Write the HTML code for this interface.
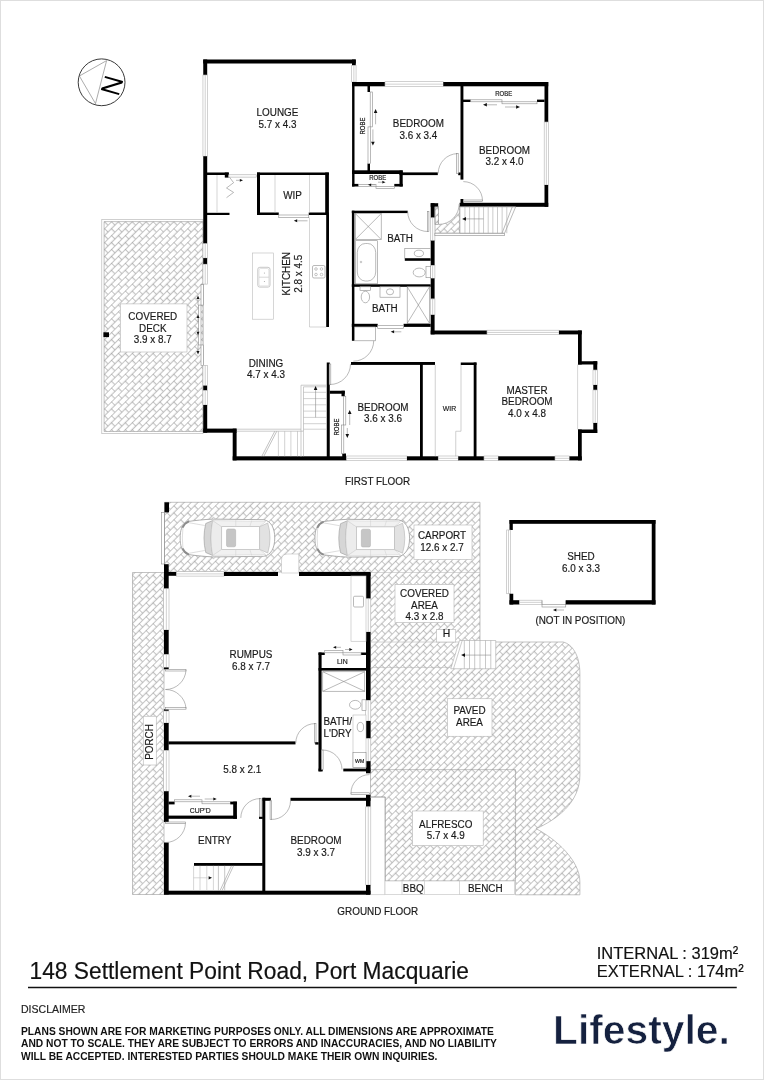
<!DOCTYPE html>
<html><head><meta charset="utf-8"><title>Floor plan</title>
<style>
html,body{margin:0;padding:0;background:#fff;}
svg{display:block;will-change:transform;font-family:"Liberation Sans",sans-serif;}
</style></head><body>
<svg width="764" height="1080" viewBox="0 0 764 1080">
<defs>
<pattern id="h" width="9.8" height="9.8" patternUnits="userSpaceOnUse" patternTransform="rotate(-45)">
<rect width="9.8" height="9.8" fill="#fff"/>
<path d="M0 0.3H9.8M0 5.2H9.8M0.3 0.3V5.2M5.2 5.2V9.8" stroke="#7c7c7c" stroke-width="0.56" fill="none"/>
</pattern>
</defs>
<rect width="764" height="1080" fill="#fff"/>
<rect x="101.80" y="219.30" width="101.20" height="214.40" fill="#fff" stroke="#b0b0b0" stroke-width="0.6"/>
<path d="M104.1 221.6H203V431.5H104.1Z" fill="url(#h)" stroke="#9a9a9a" stroke-width="0.6"/>
<path d="M434.9 206.8H459.9V233.2H434.9Z" fill="url(#h)" stroke="#9a9a9a" stroke-width="0.6"/>
<path d="M164.5 502.3H480V642H563C572 644 579.9 655 579.9 674V775C579.9 803 556.2 819.7 536.2 828.7C555.6 839 579.9 860 579.9 882V894.8H515.5V881H385.2V797H370.5V572H164.5Z" fill="url(#h)" stroke="#9a9a9a" stroke-width="0.6"/>
<path d="M132.5 572.5H164V894.5H132.5Z" fill="url(#h)" stroke="#9a9a9a" stroke-width="0.6"/>
<path d="M281.5 573V560Q281.5 554 287.5 554H298.8V573Z" fill="#fff" stroke="#b0b0b0" stroke-width="0.5" />
<rect x="203.25" y="59.50" width="152.50" height="4.00" fill="#000"/>
<rect x="203.25" y="59.50" width="3.95" height="15.50" fill="#000"/>
<rect x="202.95" y="75.00" width="4.55" height="81.25" fill="#fff" stroke="#b2b2b2" stroke-width="0.6"/>
<line x1="205.22" y1="75.00" x2="205.22" y2="156.25" stroke="#b2b2b2" stroke-width="0.6"/>
<rect x="203.25" y="156.25" width="3.95" height="87.45" fill="#000"/>
<rect x="202.95" y="243.70" width="4.55" height="14.40" fill="#fff" stroke="#b2b2b2" stroke-width="0.6"/>
<line x1="205.22" y1="243.70" x2="205.22" y2="258.10" stroke="#b2b2b2" stroke-width="0.6"/>
<rect x="203.25" y="258.10" width="3.95" height="6.10" fill="#000"/>
<rect x="202.95" y="264.20" width="4.55" height="19.90" fill="#fff" stroke="#b2b2b2" stroke-width="0.6"/>
<line x1="205.22" y1="264.20" x2="205.22" y2="284.10" stroke="#b2b2b2" stroke-width="0.6"/>
<rect x="201.00" y="284.60" width="2.40" height="20.50" fill="#fff" stroke="#8c8c8c" stroke-width="0.6"/>
<rect x="198.60" y="305.10" width="2.40" height="39.90" fill="#fff" stroke="#8c8c8c" stroke-width="0.6"/>
<rect x="201.00" y="345.00" width="2.40" height="20.30" fill="#fff" stroke="#8c8c8c" stroke-width="0.6"/>
<line x1="198.00" y1="305.00" x2="198.00" y2="298.90" stroke="#8a8a8a" stroke-width="0.6"/>
<polygon points="198.00,295.50 199.50,298.90 196.50,298.90" fill="#111"/>
<line x1="198.00" y1="322.00" x2="198.00" y2="318.10" stroke="#8a8a8a" stroke-width="0.6"/>
<polygon points="198.00,314.70 199.50,318.10 196.50,318.10" fill="#111"/>
<line x1="198.00" y1="328.00" x2="198.00" y2="331.80" stroke="#8a8a8a" stroke-width="0.6"/>
<polygon points="198.00,335.20 196.50,331.80 199.50,331.80" fill="#111"/>
<line x1="198.00" y1="344.80" x2="198.00" y2="351.00" stroke="#8a8a8a" stroke-width="0.6"/>
<polygon points="198.00,354.40 196.50,351.00 199.50,351.00" fill="#111"/>
<rect x="202.95" y="365.30" width="4.55" height="20.40" fill="#fff" stroke="#b2b2b2" stroke-width="0.6"/>
<line x1="205.22" y1="365.30" x2="205.22" y2="385.70" stroke="#b2b2b2" stroke-width="0.6"/>
<rect x="203.25" y="385.70" width="3.95" height="4.80" fill="#000"/>
<rect x="202.95" y="390.50" width="4.55" height="14.50" fill="#fff" stroke="#b2b2b2" stroke-width="0.6"/>
<line x1="205.22" y1="390.50" x2="205.22" y2="405.00" stroke="#b2b2b2" stroke-width="0.6"/>
<rect x="203.25" y="405.00" width="3.95" height="27.70" fill="#000"/>
<rect x="203.25" y="428.60" width="33.35" height="4.10" fill="#000"/>
<rect x="232.70" y="428.60" width="3.90" height="31.80" fill="#000"/>
<rect x="232.70" y="456.30" width="113.80" height="4.10" fill="#000"/>
<rect x="346.50" y="456.00" width="60.50" height="4.70" fill="#fff" stroke="#b2b2b2" stroke-width="0.6"/>
<line x1="346.50" y1="458.35" x2="407.00" y2="458.35" stroke="#b2b2b2" stroke-width="0.6"/>
<rect x="407.00" y="456.30" width="31.25" height="4.10" fill="#000"/>
<rect x="438.25" y="456.00" width="20.00" height="4.70" fill="#fff" stroke="#b2b2b2" stroke-width="0.6"/>
<line x1="438.25" y1="458.35" x2="458.25" y2="458.35" stroke="#b2b2b2" stroke-width="0.6"/>
<rect x="458.25" y="456.30" width="25.75" height="4.10" fill="#000"/>
<rect x="484.00" y="456.00" width="14.25" height="4.70" fill="#fff" stroke="#b2b2b2" stroke-width="0.6"/>
<line x1="484.00" y1="458.35" x2="498.25" y2="458.35" stroke="#b2b2b2" stroke-width="0.6"/>
<rect x="498.25" y="456.30" width="56.75" height="4.10" fill="#000"/>
<rect x="555.00" y="456.00" width="14.50" height="4.70" fill="#fff" stroke="#b2b2b2" stroke-width="0.6"/>
<line x1="555.00" y1="458.35" x2="569.50" y2="458.35" stroke="#b2b2b2" stroke-width="0.6"/>
<rect x="569.50" y="456.30" width="12.25" height="4.10" fill="#000"/>
<rect x="578.00" y="330.50" width="3.75" height="34.00" fill="#000"/>
<rect x="578.00" y="361.25" width="19.25" height="3.25" fill="#000"/>
<rect x="593.30" y="361.25" width="3.95" height="8.75" fill="#000"/>
<rect x="593.00" y="370.00" width="4.55" height="15.00" fill="#fff" stroke="#b2b2b2" stroke-width="0.6"/>
<line x1="595.27" y1="370.00" x2="595.27" y2="385.00" stroke="#b2b2b2" stroke-width="0.6"/>
<rect x="593.30" y="385.00" width="3.95" height="5.00" fill="#000"/>
<rect x="593.00" y="390.00" width="4.55" height="33.00" fill="#fff" stroke="#b2b2b2" stroke-width="0.6"/>
<line x1="595.27" y1="390.00" x2="595.27" y2="423.00" stroke="#b2b2b2" stroke-width="0.6"/>
<rect x="593.30" y="423.00" width="3.95" height="10.00" fill="#000"/>
<rect x="578.00" y="429.50" width="19.25" height="3.50" fill="#000"/>
<rect x="578.00" y="429.50" width="3.75" height="30.90" fill="#000"/>
<line x1="577.60" y1="364.50" x2="577.60" y2="429.50" stroke="#bbb" stroke-width="0.6"/>
<rect x="430.70" y="330.50" width="56.30" height="3.90" fill="#000"/>
<rect x="487.00" y="330.20" width="72.00" height="4.50" fill="#fff" stroke="#b2b2b2" stroke-width="0.6"/>
<line x1="487.00" y1="332.45" x2="559.00" y2="332.45" stroke="#b2b2b2" stroke-width="0.6"/>
<rect x="559.00" y="330.50" width="22.75" height="3.90" fill="#000"/>
<rect x="430.70" y="203.20" width="3.90" height="14.60" fill="#000"/>
<rect x="430.70" y="203.20" width="7.50" height="3.60" fill="#000"/>
<rect x="430.40" y="217.80" width="4.50" height="22.90" fill="#fff" stroke="#b2b2b2" stroke-width="0.6"/>
<line x1="432.65" y1="217.80" x2="432.65" y2="240.70" stroke="#b2b2b2" stroke-width="0.6"/>
<rect x="430.70" y="240.70" width="3.90" height="24.70" fill="#000"/>
<rect x="430.40" y="265.40" width="4.50" height="13.00" fill="#fff" stroke="#b2b2b2" stroke-width="0.6"/>
<line x1="432.65" y1="265.40" x2="432.65" y2="278.40" stroke="#b2b2b2" stroke-width="0.6"/>
<rect x="430.70" y="278.40" width="3.90" height="20.50" fill="#000"/>
<rect x="430.40" y="298.90" width="4.50" height="16.00" fill="#fff" stroke="#b2b2b2" stroke-width="0.6"/>
<line x1="432.65" y1="298.90" x2="432.65" y2="314.90" stroke="#b2b2b2" stroke-width="0.6"/>
<rect x="430.70" y="314.90" width="3.90" height="19.50" fill="#000"/>
<rect x="352.00" y="59.50" width="3.75" height="6.00" fill="#000"/>
<rect x="351.70" y="65.50" width="4.35" height="16.50" fill="#fff" stroke="#b2b2b2" stroke-width="0.6"/>
<line x1="353.88" y1="65.50" x2="353.88" y2="82.00" stroke="#b2b2b2" stroke-width="0.6"/>
<rect x="352.00" y="82.00" width="33.00" height="4.30" fill="#000"/>
<rect x="385.00" y="81.70" width="58.30" height="4.90" fill="#fff" stroke="#b2b2b2" stroke-width="0.6"/>
<line x1="385.00" y1="84.15" x2="443.30" y2="84.15" stroke="#b2b2b2" stroke-width="0.6"/>
<rect x="443.30" y="82.00" width="104.95" height="4.30" fill="#000"/>
<rect x="352.10" y="82.00" width="2.40" height="104.50" fill="#000"/>
<rect x="367.50" y="86.00" width="2.50" height="6.00" fill="#000"/>
<rect x="367.50" y="163.50" width="2.50" height="7.50" fill="#000"/>
<rect x="352.00" y="170.30" width="50.70" height="3.70" fill="#000"/>
<rect x="399.50" y="172.40" width="38.30" height="2.70" fill="#000"/>
<rect x="458.20" y="172.50" width="2.50" height="2.70" fill="#000"/>
<rect x="399.50" y="170.50" width="3.20" height="16.00" fill="#000"/>
<rect x="352.00" y="183.90" width="6.60" height="2.60" fill="#000"/>
<rect x="394.30" y="183.90" width="8.40" height="2.60" fill="#000"/>
<rect x="358.60" y="184.60" width="17.40" height="2.00" fill="#fff" stroke="#8c8c8c" stroke-width="0.6"/>
<rect x="376.00" y="186.60" width="18.30" height="2.00" fill="#fff" stroke="#8c8c8c" stroke-width="0.6"/>
<line x1="375.00" y1="184.80" x2="371.20" y2="184.80" stroke="#8a8a8a" stroke-width="0.6"/>
<polygon points="368.00,184.80 371.20,183.40 371.20,186.20" fill="#111"/>
<line x1="378.00" y1="182.20" x2="382.30" y2="182.20" stroke="#8a8a8a" stroke-width="0.6"/>
<polygon points="385.50,182.20 382.30,183.60 382.30,180.80" fill="#111"/>
<rect x="370.20" y="92.00" width="2.40" height="34.90" fill="#fff" stroke="#8c8c8c" stroke-width="0.6"/>
<rect x="368.00" y="126.90" width="2.40" height="36.60" fill="#fff" stroke="#8c8c8c" stroke-width="0.6"/>
<line x1="375.60" y1="124.30" x2="375.60" y2="112.90" stroke="#8a8a8a" stroke-width="0.6"/>
<polygon points="375.60,109.00 377.40,112.90 373.80,112.90" fill="#111"/>
<line x1="372.90" y1="129.40" x2="372.90" y2="141.70" stroke="#8a8a8a" stroke-width="0.6"/>
<polygon points="372.90,145.60 371.10,141.70 374.70,141.70" fill="#111"/>
<rect x="460.50" y="86.00" width="2.90" height="93.60" fill="#000"/>
<rect x="544.50" y="82.00" width="3.75" height="40.00" fill="#000"/>
<rect x="544.20" y="122.00" width="4.35" height="63.00" fill="#fff" stroke="#b2b2b2" stroke-width="0.6"/>
<line x1="546.38" y1="122.00" x2="546.38" y2="185.00" stroke="#b2b2b2" stroke-width="0.6"/>
<rect x="544.50" y="185.00" width="3.75" height="21.80" fill="#000"/>
<rect x="459.60" y="202.80" width="88.65" height="4.00" fill="#000"/>
<rect x="460.50" y="199.00" width="2.90" height="4.00" fill="#000"/>
<rect x="462.00" y="99.60" width="8.75" height="2.40" fill="#000"/>
<rect x="537.00" y="99.60" width="7.50" height="2.40" fill="#000"/>
<rect x="470.75" y="99.80" width="31.25" height="2.00" fill="#fff" stroke="#8c8c8c" stroke-width="0.6"/>
<rect x="502.00" y="101.80" width="35.00" height="2.00" fill="#fff" stroke="#8c8c8c" stroke-width="0.6"/>
<line x1="497.00" y1="104.80" x2="486.90" y2="104.80" stroke="#8a8a8a" stroke-width="0.6"/>
<polygon points="483.00,104.80 486.90,103.00 486.90,106.60" fill="#111"/>
<line x1="505.00" y1="107.00" x2="516.10" y2="107.00" stroke="#8a8a8a" stroke-width="0.6"/>
<polygon points="520.00,107.00 516.10,108.80 516.10,105.20" fill="#111"/>
<rect x="456.60" y="153.60" width="1.60" height="19.80" fill="#fff" stroke="#8c8c8c" stroke-width="0.6"/>
<path d="M457.40 153.60A19.80 19.80 0 0 0 438.20 173.40" fill="none" stroke="#8c8c8c" stroke-width="0.6" />
<rect x="463.30" y="200.00" width="19.20" height="1.60" fill="#fff" stroke="#8c8c8c" stroke-width="0.6"/>
<path d="M482.50 200.80A19.20 19.20 0 0 0 463.30 181.60" fill="none" stroke="#8c8c8c" stroke-width="0.6" />
<path d="M438.8 204V224.4A20.4 20.4 0 0 0 459.2 204Z" fill="#fff" stroke="none" stroke-width="0.6" />
<path d="M438.8 224.4A20.4 20.4 0 0 0 459.2 204" fill="none" stroke="#8c8c8c" stroke-width="0.6" />
<rect x="435.00" y="206.80" width="3.40" height="17.60" fill="none" stroke="#8c8c8c" stroke-width="0.6"/>
<rect x="434.90" y="233.20" width="69.70" height="2.50" fill="#fff" stroke="#8c8c8c" stroke-width="0.6"/>
<path d="M459.9 206.8H515.7L504.6 233.2H459.9Z" fill="#fff" stroke="#8c8c8c" stroke-width="0.6" />
<line x1="512.30" y1="206.80" x2="502.00" y2="233.20" stroke="#8c8c8c" stroke-width="0.6"/>
<line x1="464.95" y1="206.80" x2="464.95" y2="233.20" stroke="#a8a8a8" stroke-width="0.6"/>
<line x1="469.60" y1="206.80" x2="469.60" y2="233.20" stroke="#a8a8a8" stroke-width="0.6"/>
<line x1="474.25" y1="206.80" x2="474.25" y2="233.20" stroke="#a8a8a8" stroke-width="0.6"/>
<line x1="478.90" y1="206.80" x2="478.90" y2="233.20" stroke="#a8a8a8" stroke-width="0.6"/>
<line x1="483.55" y1="206.80" x2="483.55" y2="233.20" stroke="#a8a8a8" stroke-width="0.6"/>
<line x1="488.20" y1="206.80" x2="488.20" y2="233.20" stroke="#a8a8a8" stroke-width="0.6"/>
<line x1="492.85" y1="206.80" x2="492.85" y2="233.20" stroke="#a8a8a8" stroke-width="0.6"/>
<line x1="497.50" y1="206.80" x2="497.50" y2="233.20" stroke="#a8a8a8" stroke-width="0.6"/>
<line x1="502.15" y1="206.80" x2="502.15" y2="233.20" stroke="#a8a8a8" stroke-width="0.6"/>
<line x1="506.80" y1="206.80" x2="506.80" y2="233.20" stroke="#a8a8a8" stroke-width="0.6"/>
<line x1="483.50" y1="218.90" x2="466.00" y2="218.90" stroke="#8a8a8a" stroke-width="0.6"/>
<polygon points="462.10,218.90 466.00,217.10 466.00,220.70" fill="#111"/>
<rect x="351.90" y="210.70" width="2.50" height="130.10" fill="#000"/>
<rect x="351.80" y="210.70" width="55.90" height="2.40" fill="#000"/>
<rect x="355.30" y="213.60" width="25.90" height="25.90" fill="#fff" stroke="#8c8c8c" stroke-width="0.6"/>
<line x1="355.30" y1="213.60" x2="381.20" y2="239.50" stroke="#8c8c8c" stroke-width="0.6"/>
<line x1="355.30" y1="239.50" x2="381.20" y2="213.60" stroke="#8c8c8c" stroke-width="0.6"/>
<rect x="355.30" y="240.70" width="22.40" height="43.10" fill="#fff" stroke="#8c8c8c" stroke-width="0.6"/>
<rect x="357.3" y="243.5" width="18.4" height="37.5" rx="8" ry="9" fill="#fff" stroke="#8c8c8c" stroke-width="0.6"/>
<circle cx="361" cy="262" r="0.8" fill="none" stroke="#8c8c8c" stroke-width="0.5"/>
<rect x="404.80" y="248.40" width="25.90" height="9.90" fill="#fff" stroke="#8c8c8c" stroke-width="0.6"/>
<ellipse cx="418.9" cy="253.4" rx="4.6" ry="3.2" fill="#fff" stroke="#8c8c8c" stroke-width="0.6"/>
<rect x="404.80" y="258.30" width="25.90" height="2.50" fill="#000"/>
<ellipse cx="419.2" cy="272.5" rx="6" ry="4.4" fill="#fff" stroke="#8c8c8c" stroke-width="0.6"/>
<rect x="426.00" y="266.60" width="4.70" height="11.10" fill="#fff" stroke="#8c8c8c" stroke-width="0.6"/>
<rect x="351.80" y="284.30" width="78.90" height="2.50" fill="#000"/>
<rect x="427.30" y="211.50" width="1.60" height="20.00" fill="#fff" stroke="#8c8c8c" stroke-width="0.6"/>
<path d="M428.10 231.50A20.00 20.00 0 0 1 407.70 211.50" fill="none" stroke="#8c8c8c" stroke-width="0.6" />
<rect x="360.00" y="286.80" width="10.60" height="3.50" fill="#fff" stroke="#8c8c8c" stroke-width="0.6"/>
<ellipse cx="365.4" cy="297" rx="4.2" ry="5.8" fill="#fff" stroke="#8c8c8c" stroke-width="0.6"/>
<rect x="380.00" y="286.80" width="20.00" height="10.40" fill="#fff" stroke="#8c8c8c" stroke-width="0.6"/>
<ellipse cx="390" cy="291.8" rx="3.6" ry="3" fill="#fff" stroke="#8c8c8c" stroke-width="0.6"/>
<rect x="407.20" y="286.80" width="22.30" height="36.50" fill="#fff" stroke="#8c8c8c" stroke-width="0.6"/>
<line x1="407.20" y1="286.80" x2="429.50" y2="323.30" stroke="#8c8c8c" stroke-width="0.6"/>
<line x1="407.20" y1="323.30" x2="429.50" y2="286.80" stroke="#8c8c8c" stroke-width="0.6"/>
<rect x="351.80" y="323.80" width="25.90" height="3.10" fill="#000"/>
<rect x="403.60" y="323.80" width="27.10" height="3.10" fill="#000"/>
<rect x="377.70" y="325.40" width="25.90" height="3.00" fill="#fff" stroke="#8c8c8c" stroke-width="0.6"/>
<line x1="401.30" y1="331.80" x2="394.10" y2="331.80" stroke="#8a8a8a" stroke-width="0.6"/>
<polygon points="390.70,331.80 394.10,330.30 394.10,333.30" fill="#111"/>
<rect x="354.70" y="326.90" width="20.60" height="13.90" fill="none" stroke="#8c8c8c" stroke-width="0.6"/>
<path d="M353.30 361.20A20.40 20.40 0 0 0 373.70 340.80" fill="none" stroke="#8c8c8c" stroke-width="0.6" />
<rect x="351.00" y="362.00" width="84.00" height="2.90" fill="#000"/>
<rect x="326.75" y="362.50" width="3.00" height="95.00" fill="#000"/>
<rect x="329.75" y="390.75" width="15.00" height="3.00" fill="#000"/>
<rect x="341.50" y="390.75" width="3.25" height="5.50" fill="#000"/>
<rect x="342.25" y="453.50" width="3.75" height="4.00" fill="#000"/>
<rect x="343.60" y="396.25" width="2.20" height="28.75" fill="#fff" stroke="#8c8c8c" stroke-width="0.6"/>
<rect x="341.60" y="425.00" width="2.20" height="28.50" fill="#fff" stroke="#8c8c8c" stroke-width="0.6"/>
<line x1="349.70" y1="425.00" x2="349.70" y2="413.90" stroke="#8a8a8a" stroke-width="0.6"/>
<polygon points="349.70,410.00 351.50,413.90 347.90,413.90" fill="#111"/>
<line x1="347.30" y1="428.00" x2="347.30" y2="434.10" stroke="#8a8a8a" stroke-width="0.6"/>
<polygon points="347.30,438.00 345.50,434.10 349.10,434.10" fill="#111"/>
<rect x="329.20" y="364.00" width="1.60" height="20.50" fill="#fff" stroke="#8c8c8c" stroke-width="0.6"/>
<path d="M330.00 384.50A20.50 20.50 0 0 0 350.50 364.00" fill="none" stroke="#8c8c8c" stroke-width="0.6" />
<rect x="420.00" y="362.50" width="2.80" height="95.00" fill="#000"/>
<line x1="435.25" y1="364.90" x2="435.25" y2="456.30" stroke="#b0b0b0" stroke-width="0.6"/>
<rect x="460.75" y="362.50" width="15.75" height="2.50" fill="#000"/>
<rect x="473.70" y="362.50" width="2.80" height="95.00" fill="#000"/>
<path d="M461 365V431.25H455.75V456.3" fill="none" stroke="#b0b0b0" stroke-width="0.6" />
<rect x="207.00" y="172.50" width="21.75" height="2.50" fill="#000"/>
<rect x="224.80" y="172.50" width="3.90" height="5.10" fill="#000"/>
<rect x="207.00" y="212.80" width="22.50" height="2.20" fill="#000"/>
<line x1="217.00" y1="175.00" x2="217.00" y2="212.80" stroke="#bbb" stroke-width="0.6"/>
<rect x="228.75" y="174.80" width="27.50" height="2.30" fill="#fff" stroke="#a8a8a8" stroke-width="0.6"/>
<line x1="236.00" y1="180.30" x2="239.80" y2="180.30" stroke="#8a8a8a" stroke-width="0.6"/>
<polygon points="243.00,180.30 239.80,181.70 239.80,178.90" fill="#111"/>
<path d="M229.2 176.8L233.6 182.7L226.5 188L233.6 192.4L226.5 197.7" fill="none" stroke="#8a8a8a" stroke-width="0.6" />
<rect x="257.00" y="172.50" width="71.75" height="2.50" fill="#000"/>
<rect x="257.00" y="172.50" width="3.00" height="42.50" fill="#000"/>
<rect x="257.00" y="212.50" width="21.75" height="2.50" fill="#000"/>
<rect x="308.75" y="212.50" width="20.00" height="2.50" fill="#000"/>
<rect x="325.20" y="172.50" width="3.70" height="42.50" fill="#000"/>
<rect x="326.20" y="215.00" width="2.80" height="112.00" fill="#000"/>
<line x1="275.00" y1="175.00" x2="275.00" y2="212.50" stroke="#bbb" stroke-width="0.6"/>
<line x1="309.50" y1="175.00" x2="309.50" y2="212.50" stroke="#bbb" stroke-width="0.6"/>
<rect x="278.75" y="215.00" width="30.00" height="2.70" fill="#fff" stroke="#8c8c8c" stroke-width="0.6"/>
<line x1="307.50" y1="220.80" x2="297.20" y2="220.80" stroke="#8a8a8a" stroke-width="0.6"/>
<polygon points="293.80,220.80 297.20,219.30 297.20,222.30" fill="#111"/>
<path d="M309.5 217.7V327H326.2" fill="none" stroke="#bbb" stroke-width="0.6" />
<rect x="312.5" y="265.5" width="12.5" height="12.5" rx="1.5" fill="#fff" stroke="#8c8c8c" stroke-width="0.6"/>
<circle cx="316" cy="269" r="1.3" fill="none" stroke="#8c8c8c" stroke-width="0.5"/>
<circle cx="321.5" cy="269" r="1.3" fill="none" stroke="#8c8c8c" stroke-width="0.5"/>
<circle cx="316" cy="274.5" r="1.3" fill="none" stroke="#8c8c8c" stroke-width="0.5"/>
<circle cx="321.5" cy="274.5" r="1.3" fill="none" stroke="#8c8c8c" stroke-width="0.5"/>
<rect x="252.50" y="253.00" width="20.80" height="66.20" fill="#fff" stroke="#bbb" stroke-width="0.6"/>
<rect x="257.8" y="267.3" width="12.2" height="19.8" rx="2" fill="#fff" stroke="#b0b0b0" stroke-width="0.7"/>
<rect x="259" y="268.5" width="9.8" height="17.4" rx="1.5" fill="none" stroke="#c8c8c8" stroke-width="0.5"/>
<line x1="259.00" y1="277.20" x2="268.80" y2="277.20" stroke="#bdbdbd" stroke-width="0.6"/>
<circle cx="264.4" cy="273" r="0.5" fill="#999"/><circle cx="264.4" cy="281.6" r="0.5" fill="#999"/>
<path d="M301 457V385.2H326.5M303.5 431.2V386.8H326.5" fill="none" stroke="#aaa" stroke-width="0.6" />
<path d="M236.6 429.2H301M236.6 431.2H303.5" fill="none" stroke="#aaa" stroke-width="0.6" />
<line x1="303.50" y1="392.30" x2="326.50" y2="392.30" stroke="#b4b4b4" stroke-width="0.6"/>
<line x1="303.50" y1="398.60" x2="326.50" y2="398.60" stroke="#b4b4b4" stroke-width="0.6"/>
<line x1="303.50" y1="404.80" x2="326.50" y2="404.80" stroke="#b4b4b4" stroke-width="0.6"/>
<line x1="303.50" y1="411.10" x2="326.50" y2="411.10" stroke="#b4b4b4" stroke-width="0.6"/>
<line x1="303.50" y1="417.40" x2="326.50" y2="417.40" stroke="#b4b4b4" stroke-width="0.6"/>
<line x1="303.50" y1="423.70" x2="326.50" y2="423.70" stroke="#b4b4b4" stroke-width="0.6"/>
<line x1="303.50" y1="429.20" x2="326.50" y2="429.20" stroke="#b4b4b4" stroke-width="0.6"/>
<line x1="278.40" y1="431.20" x2="278.40" y2="456.30" stroke="#b4b4b4" stroke-width="0.6"/>
<line x1="284.70" y1="431.20" x2="284.70" y2="456.30" stroke="#b4b4b4" stroke-width="0.6"/>
<line x1="290.90" y1="431.20" x2="290.90" y2="456.30" stroke="#b4b4b4" stroke-width="0.6"/>
<line x1="297.50" y1="431.20" x2="297.50" y2="456.30" stroke="#b4b4b4" stroke-width="0.6"/>
<line x1="303.50" y1="431.20" x2="303.50" y2="456.30" stroke="#b4b4b4" stroke-width="0.6"/>
<line x1="276.80" y1="431.20" x2="263.80" y2="456.30" stroke="#999" stroke-width="0.6"/>
<line x1="274.80" y1="431.20" x2="261.80" y2="456.30" stroke="#999" stroke-width="0.6"/>
<line x1="315.60" y1="417.40" x2="315.60" y2="389.90" stroke="#8a8a8a" stroke-width="0.6"/>
<polygon points="315.60,386.00 317.40,389.90 313.80,389.90" fill="#111"/>
<rect x="164.50" y="502.30" width="4.50" height="10.10" fill="#000"/>
<rect x="161.50" y="512.40" width="3.00" height="51.60" fill="none" stroke="#8c8c8c" stroke-width="0.6"/>
<rect x="164.00" y="564.20" width="4.70" height="24.55" fill="#000"/>
<rect x="164.00" y="572.00" width="12.50" height="3.80" fill="#000"/>
<rect x="176.50" y="571.70" width="47.50" height="4.40" fill="#fff" stroke="#b2b2b2" stroke-width="0.6"/>
<line x1="176.50" y1="573.90" x2="224.00" y2="573.90" stroke="#b2b2b2" stroke-width="0.6"/>
<rect x="224.00" y="572.00" width="54.00" height="4.00" fill="#000"/>
<rect x="299.00" y="572.00" width="71.50" height="4.00" fill="#000"/>
<rect x="163.70" y="588.75" width="5.30" height="41.25" fill="#fff" stroke="#b2b2b2" stroke-width="0.6"/>
<line x1="166.35" y1="588.75" x2="166.35" y2="630.00" stroke="#b2b2b2" stroke-width="0.6"/>
<rect x="164.00" y="630.00" width="4.70" height="24.50" fill="#000"/>
<rect x="163.70" y="654.50" width="5.30" height="13.00" fill="#fff" stroke="#b2b2b2" stroke-width="0.6"/>
<line x1="166.35" y1="654.50" x2="166.35" y2="667.50" stroke="#b2b2b2" stroke-width="0.6"/>
<rect x="164.00" y="667.50" width="4.70" height="1.80" fill="#000"/>
<rect x="164.00" y="709.30" width="4.70" height="1.70" fill="#000"/>
<rect x="163.70" y="711.00" width="5.30" height="12.00" fill="#fff" stroke="#b2b2b2" stroke-width="0.6"/>
<line x1="166.35" y1="711.00" x2="166.35" y2="723.00" stroke="#b2b2b2" stroke-width="0.6"/>
<rect x="164.00" y="723.00" width="4.70" height="27.50" fill="#000"/>
<rect x="163.70" y="750.50" width="5.30" height="40.75" fill="#fff" stroke="#b2b2b2" stroke-width="0.6"/>
<line x1="166.35" y1="750.50" x2="166.35" y2="791.25" stroke="#b2b2b2" stroke-width="0.6"/>
<rect x="164.00" y="791.25" width="4.70" height="30.75" fill="#000"/>
<rect x="164.00" y="842.50" width="4.70" height="52.00" fill="#000"/>
<rect x="164.00" y="890.70" width="206.50" height="4.00" fill="#000"/>
<rect x="165.50" y="669.40" width="20.50" height="1.60" fill="#fff" stroke="#8c8c8c" stroke-width="0.6"/>
<path d="M186.00 670.20A20.50 20.50 0 0 1 165.50 689.50" fill="none" stroke="#8c8c8c" stroke-width="0.6" />
<rect x="165.50" y="707.60" width="20.50" height="1.60" fill="#fff" stroke="#8c8c8c" stroke-width="0.6"/>
<path d="M186.00 708.40A20.50 20.50 0 0 0 165.50 689.50" fill="none" stroke="#8c8c8c" stroke-width="0.6" />
<rect x="165.50" y="822.00" width="20.00" height="1.60" fill="#fff" stroke="#8c8c8c" stroke-width="0.6"/>
<path d="M185.50 822.80A20.00 20.00 0 0 1 165.50 842.50" fill="none" stroke="#8c8c8c" stroke-width="0.6" />
<rect x="366.00" y="572.00" width="4.50" height="26.75" fill="#000"/>
<rect x="365.70" y="598.75" width="5.10" height="33.25" fill="#fff" stroke="#b2b2b2" stroke-width="0.6"/>
<line x1="368.25" y1="598.75" x2="368.25" y2="632.00" stroke="#b2b2b2" stroke-width="0.6"/>
<rect x="366.00" y="632.00" width="4.50" height="68.30" fill="#000"/>
<rect x="365.70" y="700.30" width="5.10" height="20.70" fill="#fff" stroke="#b2b2b2" stroke-width="0.6"/>
<line x1="368.25" y1="700.30" x2="368.25" y2="721.00" stroke="#b2b2b2" stroke-width="0.6"/>
<rect x="366.00" y="721.00" width="4.50" height="17.50" fill="#000"/>
<rect x="365.70" y="738.50" width="5.10" height="22.70" fill="#fff" stroke="#b2b2b2" stroke-width="0.6"/>
<line x1="368.25" y1="738.50" x2="368.25" y2="761.20" stroke="#b2b2b2" stroke-width="0.6"/>
<rect x="366.00" y="761.20" width="4.50" height="12.10" fill="#000"/>
<rect x="366.00" y="794.70" width="4.50" height="12.10" fill="#000"/>
<rect x="365.70" y="806.80" width="5.10" height="78.20" fill="#fff" stroke="#b2b2b2" stroke-width="0.6"/>
<line x1="368.25" y1="806.80" x2="368.25" y2="885.00" stroke="#b2b2b2" stroke-width="0.6"/>
<rect x="366.00" y="885.00" width="4.50" height="9.70" fill="#000"/>
<rect x="351.00" y="576.00" width="15.00" height="65.25" fill="#fff" stroke="#bbb" stroke-width="0.6"/>
<rect x="353.5" y="596.25" width="10" height="10.75" rx="1.2" fill="#fff" stroke="#8c8c8c" stroke-width="0.6"/>
<rect x="318.50" y="652.50" width="3.10" height="118.80" fill="#000"/>
<rect x="318.50" y="652.50" width="6.25" height="2.50" fill="#000"/>
<rect x="361.00" y="652.50" width="5.00" height="2.50" fill="#000"/>
<rect x="324.75" y="650.60" width="18.25" height="2.20" fill="#fff" stroke="#8c8c8c" stroke-width="0.6"/>
<rect x="343.00" y="652.80" width="18.00" height="2.20" fill="#fff" stroke="#8c8c8c" stroke-width="0.6"/>
<line x1="341.00" y1="647.30" x2="336.20" y2="647.30" stroke="#8a8a8a" stroke-width="0.6"/>
<polygon points="333.00,647.30 336.20,645.90 336.20,648.70" fill="#111"/>
<line x1="345.00" y1="649.50" x2="349.30" y2="649.50" stroke="#8a8a8a" stroke-width="0.6"/>
<polygon points="352.50,649.50 349.30,650.90 349.30,648.10" fill="#111"/>
<rect x="318.50" y="668.00" width="47.50" height="2.60" fill="#000"/>
<rect x="322.75" y="671.75" width="42.00" height="19.50" fill="#fff" stroke="#8c8c8c" stroke-width="0.6"/>
<line x1="322.75" y1="671.75" x2="364.75" y2="691.25" stroke="#8c8c8c" stroke-width="0.6"/>
<line x1="322.75" y1="691.25" x2="364.75" y2="671.75" stroke="#8c8c8c" stroke-width="0.6"/>
<ellipse cx="355.2" cy="704.8" rx="5.7" ry="4.4" fill="#fff" stroke="#8c8c8c" stroke-width="0.6"/>
<rect x="362.00" y="699.80" width="4.00" height="10.60" fill="#fff" stroke="#8c8c8c" stroke-width="0.6"/>
<rect x="353.00" y="715.00" width="13.00" height="52.50" fill="#fff" stroke="#bbb" stroke-width="0.6"/>
<ellipse cx="360.4" cy="727" rx="3.2" ry="4.6" fill="#fff" stroke="#8c8c8c" stroke-width="0.6"/>
<rect x="353.00" y="752.50" width="13.00" height="15.00" fill="#fff" stroke="#8c8c8c" stroke-width="0.6"/>
<rect x="318.50" y="768.60" width="4.25" height="2.80" fill="#000"/>
<rect x="343.30" y="768.60" width="27.20" height="2.80" fill="#000"/>
<rect x="321.50" y="750.00" width="1.60" height="19.50" fill="#fff" stroke="#8c8c8c" stroke-width="0.6"/>
<path d="M322.30 750.00A19.50 19.50 0 0 1 342.00 769.50" fill="none" stroke="#8c8c8c" stroke-width="0.6" />
<rect x="351.00" y="792.80" width="18.50" height="1.60" fill="#fff" stroke="#8c8c8c" stroke-width="0.6"/>
<path d="M351.00 793.60A18.50 18.50 0 0 1 369.50 774.60" fill="none" stroke="#8c8c8c" stroke-width="0.6" />
<rect x="168.50" y="741.40" width="127.00" height="3.00" fill="#000"/>
<rect x="314.40" y="723.60" width="1.60" height="19.40" fill="#fff" stroke="#8c8c8c" stroke-width="0.6"/>
<path d="M315.20 723.60A19.40 19.40 0 0 0 295.80 743.00" fill="none" stroke="#8c8c8c" stroke-width="0.6" />
<rect x="315.20" y="742.20" width="3.40" height="2.40" fill="#000"/>
<rect x="168.50" y="801.60" width="6.10" height="2.80" fill="#000"/>
<rect x="174.60" y="799.80" width="27.40" height="2.00" fill="#fff" stroke="#8c8c8c" stroke-width="0.6"/>
<rect x="202.00" y="801.80" width="28.30" height="2.00" fill="#fff" stroke="#8c8c8c" stroke-width="0.6"/>
<rect x="230.30" y="801.60" width="6.60" height="2.80" fill="#000"/>
<rect x="233.20" y="801.60" width="3.70" height="17.20" fill="#000"/>
<rect x="164.00" y="815.60" width="72.90" height="3.20" fill="#000"/>
<line x1="200.00" y1="796.20" x2="191.40" y2="796.20" stroke="#8a8a8a" stroke-width="0.6"/>
<polygon points="188.00,796.20 191.40,794.70 191.40,797.70" fill="#111"/>
<line x1="204.70" y1="799.00" x2="213.30" y2="799.00" stroke="#8a8a8a" stroke-width="0.6"/>
<polygon points="216.70,799.00 213.30,800.50 213.30,797.50" fill="#111"/>
<rect x="259.50" y="798.60" width="1.60" height="19.30" fill="#fff" stroke="#8c8c8c" stroke-width="0.6"/>
<path d="M260.30 798.60A19.30 19.30 0 0 0 240.80 817.90" fill="none" stroke="#8c8c8c" stroke-width="0.6" />
<rect x="262.30" y="797.80" width="3.00" height="94.70" fill="#000"/>
<rect x="259.00" y="816.80" width="3.80" height="2.10" fill="#000"/>
<rect x="262.60" y="797.80" width="8.30" height="3.00" fill="#000"/>
<rect x="270.10" y="800.80" width="1.60" height="18.60" fill="#fff" stroke="#8c8c8c" stroke-width="0.6"/>
<path d="M270.90 819.40A18.60 18.60 0 0 0 290.50 800.80" fill="none" stroke="#8c8c8c" stroke-width="0.6" />
<rect x="290.50" y="797.80" width="80.00" height="3.00" fill="#000"/>
<rect x="194.00" y="863.00" width="68.80" height="2.80" fill="#000"/>
<line x1="193.60" y1="865.80" x2="193.60" y2="890.70" stroke="#bbb" stroke-width="0.6"/>
<line x1="200.00" y1="865.80" x2="200.00" y2="890.70" stroke="#bbb" stroke-width="0.6"/>
<line x1="206.80" y1="865.80" x2="206.80" y2="890.70" stroke="#bbb" stroke-width="0.6"/>
<line x1="213.40" y1="865.80" x2="213.40" y2="890.70" stroke="#bbb" stroke-width="0.6"/>
<line x1="218.40" y1="865.80" x2="218.40" y2="890.70" stroke="#a0a0a0" stroke-width="0.6"/>
<line x1="224.70" y1="865.80" x2="224.70" y2="890.70" stroke="#a0a0a0" stroke-width="0.6"/>
<line x1="193.60" y1="877.80" x2="207.50" y2="877.80" stroke="#bbb" stroke-width="0.6"/>
<line x1="233.50" y1="865.80" x2="222.00" y2="890.70" stroke="#999" stroke-width="0.6"/>
<line x1="231.50" y1="865.80" x2="220.00" y2="890.70" stroke="#999" stroke-width="0.6"/>
<polygon points="212,877.8 208.6,876.2 208.6,879.4" fill="#111"/>
<line x1="370.50" y1="572.50" x2="480.00" y2="572.50" stroke="#b0b0b0" stroke-width="0.5"/>
<line x1="370.50" y1="667.50" x2="450.75" y2="667.50" stroke="#b8b8b8" stroke-width="0.55"/>
<line x1="370.50" y1="642.00" x2="459.50" y2="642.00" stroke="#b0b0b0" stroke-width="0.55"/>
<path d="M370.5 769.6H515.5V881M385.2 797V894.6M370.5 797H385.2" fill="none" stroke="#999" stroke-width="0.55" />
<line x1="515.50" y1="881.00" x2="515.50" y2="894.80" stroke="#999" stroke-width="0.55"/>
<rect x="385.00" y="881.00" width="130.50" height="13.60" fill="#fff" stroke="#c0c0c0" stroke-width="0.6"/>
<rect x="402.00" y="881.00" width="22.50" height="13.60" fill="#fff" stroke="#c0c0c0" stroke-width="0.6"/>
<rect x="459.50" y="881.00" width="55.10" height="13.60" fill="#fff" stroke="#c0c0c0" stroke-width="0.6"/>
<line x1="370.50" y1="894.60" x2="385.00" y2="894.60" stroke="#c0c0c0" stroke-width="0.6"/>
<path d="M459.5 640.5H495.75V668.75H450.75Z" fill="#fff" stroke="#aaa" stroke-width="0.6" />
<line x1="462.20" y1="640.50" x2="453.50" y2="668.75" stroke="#aaa" stroke-width="0.6"/>
<line x1="464.30" y1="640.50" x2="464.30" y2="668.75" stroke="#a4a4a4" stroke-width="0.6"/>
<line x1="469.50" y1="640.50" x2="469.50" y2="668.75" stroke="#a4a4a4" stroke-width="0.6"/>
<line x1="474.70" y1="640.50" x2="474.70" y2="668.75" stroke="#a4a4a4" stroke-width="0.6"/>
<line x1="480.00" y1="640.50" x2="480.00" y2="668.75" stroke="#a4a4a4" stroke-width="0.6"/>
<line x1="485.50" y1="640.50" x2="485.50" y2="668.75" stroke="#a4a4a4" stroke-width="0.6"/>
<line x1="490.80" y1="640.50" x2="490.80" y2="668.75" stroke="#a4a4a4" stroke-width="0.6"/>
<line x1="490.80" y1="655.10" x2="465.00" y2="655.10" stroke="#8a8a8a" stroke-width="0.6"/>
<polygon points="461.10,655.10 465.00,653.30 465.00,656.90" fill="#111"/>
<rect x="509.50" y="520.00" width="146.00" height="3.80" fill="#000"/>
<rect x="509.50" y="520.00" width="3.30" height="10.00" fill="#000"/>
<rect x="506.70" y="530.00" width="3.60" height="63.75" fill="#fff" stroke="#b2b2b2" stroke-width="0.6"/>
<line x1="508.50" y1="530.00" x2="508.50" y2="593.75" stroke="#b2b2b2" stroke-width="0.6"/>
<rect x="509.50" y="593.75" width="3.75" height="10.75" fill="#000"/>
<rect x="509.50" y="600.20" width="10.00" height="4.30" fill="#000"/>
<rect x="519.50" y="600.20" width="22.50" height="4.30" fill="#fff" stroke="#b2b2b2" stroke-width="0.6"/>
<line x1="519.50" y1="602.35" x2="542.00" y2="602.35" stroke="#b2b2b2" stroke-width="0.6"/>
<rect x="542.00" y="604.40" width="23.75" height="2.60" fill="#fff" stroke="#8c8c8c" stroke-width="0.6"/>
<line x1="542.00" y1="600.50" x2="542.00" y2="604.40" stroke="#8c8c8c" stroke-width="0.6"/>
<line x1="565.75" y1="600.50" x2="565.75" y2="604.40" stroke="#8c8c8c" stroke-width="0.6"/>
<rect x="565.75" y="600.20" width="89.75" height="4.30" fill="#000"/>
<rect x="651.75" y="520.00" width="3.75" height="84.50" fill="#000"/>
<line x1="564.00" y1="610.00" x2="556.40" y2="610.00" stroke="#8a8a8a" stroke-width="0.6"/>
<polygon points="553.00,610.00 556.40,608.50 556.40,611.50" fill="#111"/>
<rect x="120.30" y="303.90" width="66.70" height="48.10" fill="#fff" stroke="#b4b4b4" stroke-width="0.6"/>
<rect x="414.00" y="525.00" width="58.00" height="34.50" fill="#fff" stroke="#b4b4b4" stroke-width="0.6"/>
<rect x="395.00" y="584.50" width="59.00" height="38.00" fill="#fff" stroke="#b4b4b4" stroke-width="0.6"/>
<rect x="436.50" y="629.70" width="19.25" height="12.30" fill="#fff" stroke="#b4b4b4" stroke-width="0.6"/>
<rect x="447.50" y="698.75" width="44.50" height="37.50" fill="#fff" stroke="#b4b4b4" stroke-width="0.6"/>
<rect x="412.50" y="811.00" width="70.70" height="34.60" fill="#fff" stroke="#b4b4b4" stroke-width="0.6"/>
<rect x="143.25" y="716.25" width="13.00" height="48.75" fill="#fff" stroke="#b4b4b4" stroke-width="0.6"/>
<g transform="translate(179.75 518.50)"><path d="M0.4 19.5C0.4 12 2 6.5 7 3.2C15 2 24 1 33 0.6L84 1.2C91 2.5 95 9 95 19.5C95 30 91 36.5 84 37.8L33 38.4C24 38 15 37 7 35.8C2 32.5 0.4 27 0.4 19.5Z" fill="#fff" stroke="#a6a6a6" stroke-width="0.9"/><path d="M3.2 9Q2 19.5 3.2 30M8 4L25 7M8 35L25 32" fill="none" stroke="#cfcfcf" stroke-width="0.7"/><path d="M26 5Q22.5 19.5 26 34L33 37Q29.5 19.5 33 2Z" fill="#d6d6d6" stroke="#a4a4a4" stroke-width="0.7"/><path d="M33 2L42 8.2V30.9L33 37Q29.5 19.5 33 2Z" fill="#ececec" stroke="#c6c6c6" stroke-width="0.5"/><path d="M33 2L42 8.2H79.8L86 3ZM33 37L42 30.9H79.8L86 36Z" fill="#f1f1f1" stroke="#cfcfcf" stroke-width="0.5"/><path d="M79.8 8.2L88 4.5Q92.5 19.5 88 34.5L79.8 30.9Z" fill="#e2e2e2" stroke="#b4b4b4" stroke-width="0.6"/><rect x="42" y="8.2" width="37.8" height="22.7" fill="#fff" stroke="#b4b4b4" stroke-width="0.6"/><rect x="46.8" y="10.5" width="9.1" height="17.8" rx="1.6" fill="#c6c6c6" stroke="#adadad" stroke-width="0.5"/><path d="M32 1L33.5 -1.4L36 0.6M32 38L33.5 40.4L36 38.4" fill="none" stroke="#bdbdbd" stroke-width="0.8"/><path d="M3.2 8.4Q4.6 5 8.4 3.4M3.2 30.6Q4.6 34 8.4 35.6" fill="none" stroke="#8c8c8c" stroke-width="2" stroke-linecap="round"/><path d="M56 1.6V8.2M56 37.4V30.9M72 2L70 8.2M72 37L70 30.9" fill="none" stroke="#cfcfcf" stroke-width="0.5"/></g>
<g transform="translate(314.55 518.70)"><path d="M0.4 19.5C0.4 12 2 6.5 7 3.2C15 2 24 1 33 0.6L84 1.2C91 2.5 95 9 95 19.5C95 30 91 36.5 84 37.8L33 38.4C24 38 15 37 7 35.8C2 32.5 0.4 27 0.4 19.5Z" fill="#fff" stroke="#a6a6a6" stroke-width="0.9"/><path d="M3.2 9Q2 19.5 3.2 30M8 4L25 7M8 35L25 32" fill="none" stroke="#cfcfcf" stroke-width="0.7"/><path d="M26 5Q22.5 19.5 26 34L33 37Q29.5 19.5 33 2Z" fill="#d6d6d6" stroke="#a4a4a4" stroke-width="0.7"/><path d="M33 2L42 8.2V30.9L33 37Q29.5 19.5 33 2Z" fill="#ececec" stroke="#c6c6c6" stroke-width="0.5"/><path d="M33 2L42 8.2H79.8L86 3ZM33 37L42 30.9H79.8L86 36Z" fill="#f1f1f1" stroke="#cfcfcf" stroke-width="0.5"/><path d="M79.8 8.2L88 4.5Q92.5 19.5 88 34.5L79.8 30.9Z" fill="#e2e2e2" stroke="#b4b4b4" stroke-width="0.6"/><rect x="42" y="8.2" width="37.8" height="22.7" fill="#fff" stroke="#b4b4b4" stroke-width="0.6"/><rect x="46.8" y="10.5" width="9.1" height="17.8" rx="1.6" fill="#c6c6c6" stroke="#adadad" stroke-width="0.5"/><path d="M32 1L33.5 -1.4L36 0.6M32 38L33.5 40.4L36 38.4" fill="none" stroke="#bdbdbd" stroke-width="0.8"/><path d="M3.2 8.4Q4.6 5 8.4 3.4M3.2 30.6Q4.6 34 8.4 35.6" fill="none" stroke="#8c8c8c" stroke-width="2" stroke-linecap="round"/><path d="M56 1.6V8.2M56 37.4V30.9M72 2L70 8.2M72 37L70 30.9" fill="none" stroke="#cfcfcf" stroke-width="0.5"/></g>
<rect x="103.40" y="332.30" width="5.60" height="4.80" fill="#000"/>
<circle cx="101.6" cy="82.3" r="23.4" fill="#fff" stroke="#222" stroke-width="0.9"/>
<path d="M106.6 60.6L79.4 76L95.5 103.6Z" fill="none" stroke="#666" stroke-width="0.55" />
<g transform="translate(112 85.5) rotate(106)" fill="#000"><rect x="-7.3" y="-9.3" width="2" height="18.6"/><rect x="5.3" y="-9.3" width="2" height="18.6"/><polygon points="-7.3,-9.3 -4.7,-9.3 7.3,9.3 4.7,9.3"/></g>
<text font-size="10.42" text-anchor="middle" font-weight="normal" fill="#1a1a1a" transform="translate(277.50 116.00) scale(0.95 1)"  stroke="#1a1a1a" stroke-width="0.18">LOUNGE</text>
<text font-size="10.42" text-anchor="middle" font-weight="normal" fill="#1a1a1a" transform="translate(277.50 128.00) scale(0.95 1)"  stroke="#1a1a1a" stroke-width="0.18">5.7 x 4.3</text>
<text font-size="10.42" text-anchor="middle" font-weight="normal" fill="#1a1a1a" transform="translate(418.40 127.10) scale(0.95 1)"  stroke="#1a1a1a" stroke-width="0.18">BEDROOM</text>
<text font-size="10.42" text-anchor="middle" font-weight="normal" fill="#1a1a1a" transform="translate(418.40 138.80) scale(0.95 1)"  stroke="#1a1a1a" stroke-width="0.18">3.6 x 3.4</text>
<text font-size="10.42" text-anchor="middle" font-weight="normal" fill="#1a1a1a" transform="translate(504.50 153.50) scale(0.95 1)"  stroke="#1a1a1a" stroke-width="0.18">BEDROOM</text>
<text font-size="10.42" text-anchor="middle" font-weight="normal" fill="#1a1a1a" transform="translate(504.50 165.30) scale(0.95 1)"  stroke="#1a1a1a" stroke-width="0.18">3.2 x 4.0</text>
<text font-size="10.42" text-anchor="middle" font-weight="normal" fill="#1a1a1a" transform="translate(292.50 198.50) scale(0.95 1)"  stroke="#1a1a1a" stroke-width="0.18">WIP</text>
<text font-size="10.42" text-anchor="middle" font-weight="normal" fill="#1a1a1a" transform="translate(400.00 242.30) scale(0.95 1)"  stroke="#1a1a1a" stroke-width="0.18">BATH</text>
<text font-size="10.42" text-anchor="middle" font-weight="normal" fill="#1a1a1a" transform="translate(384.80 312.30) scale(0.95 1)"  stroke="#1a1a1a" stroke-width="0.18">BATH</text>
<text font-size="10.42" text-anchor="middle" font-weight="normal" fill="#1a1a1a" transform="translate(289.90 273.75) rotate(-90) scale(0.95 1)"  stroke="#1a1a1a" stroke-width="0.18">KITCHEN</text>
<text font-size="10.42" text-anchor="middle" font-weight="normal" fill="#1a1a1a" transform="translate(301.90 273.75) rotate(-90) scale(0.95 1)"  stroke="#1a1a1a" stroke-width="0.18">2.8 x 4.5</text>
<text font-size="10.42" text-anchor="middle" font-weight="normal" fill="#1a1a1a" transform="translate(266.00 366.75) scale(0.95 1)"  stroke="#1a1a1a" stroke-width="0.18">DINING</text>
<text font-size="10.42" text-anchor="middle" font-weight="normal" fill="#1a1a1a" transform="translate(266.00 378.10) scale(0.95 1)"  stroke="#1a1a1a" stroke-width="0.18">4.7 x 4.3</text>
<text font-size="10.42" text-anchor="middle" font-weight="normal" fill="#1a1a1a" transform="translate(383.00 410.50) scale(0.95 1)"  stroke="#1a1a1a" stroke-width="0.18">BEDROOM</text>
<text font-size="10.42" text-anchor="middle" font-weight="normal" fill="#1a1a1a" transform="translate(383.00 421.90) scale(0.95 1)"  stroke="#1a1a1a" stroke-width="0.18">3.6 x 3.6</text>
<text font-size="10.42" text-anchor="middle" font-weight="normal" fill="#1a1a1a" transform="translate(527.00 393.50) scale(0.95 1)"  stroke="#1a1a1a" stroke-width="0.18">MASTER</text>
<text font-size="10.42" text-anchor="middle" font-weight="normal" fill="#1a1a1a" transform="translate(527.00 405.30) scale(0.95 1)"  stroke="#1a1a1a" stroke-width="0.18">BEDROOM</text>
<text font-size="10.42" text-anchor="middle" font-weight="normal" fill="#1a1a1a" transform="translate(527.00 416.90) scale(0.95 1)"  stroke="#1a1a1a" stroke-width="0.18">4.0 x 4.8</text>
<text font-size="10.42" text-anchor="middle" font-weight="normal" fill="#1a1a1a" transform="translate(152.80 320.00) scale(0.95 1)"  stroke="#1a1a1a" stroke-width="0.18">COVERED</text>
<text font-size="10.42" text-anchor="middle" font-weight="normal" fill="#1a1a1a" transform="translate(152.80 331.60) scale(0.95 1)"  stroke="#1a1a1a" stroke-width="0.18">DECK</text>
<text font-size="10.42" text-anchor="middle" font-weight="normal" fill="#1a1a1a" transform="translate(152.80 343.40) scale(0.95 1)"  stroke="#1a1a1a" stroke-width="0.18">3.9 x 8.7</text>
<text font-size="7.26" text-anchor="middle" font-weight="normal" fill="#1a1a1a" transform="translate(449.50 411.00) scale(0.95 1)"  stroke="#1a1a1a" stroke-width="0.18">WIR</text>
<text font-size="6.32" text-anchor="middle" font-weight="normal" fill="#1a1a1a" transform="translate(365.00 126.00) rotate(-90) scale(0.95 1)"  stroke="#1a1a1a" stroke-width="0.18">ROBE</text>
<text font-size="6.32" text-anchor="middle" font-weight="normal" fill="#1a1a1a" transform="translate(338.60 427.00) rotate(-90) scale(0.95 1)"  stroke="#1a1a1a" stroke-width="0.18">ROBE</text>
<text font-size="6.32" text-anchor="middle" font-weight="normal" fill="#1a1a1a" transform="translate(377.70 179.60) scale(0.95 1)"  stroke="#1a1a1a" stroke-width="0.18">ROBE</text>
<text font-size="6.32" text-anchor="middle" font-weight="normal" fill="#1a1a1a" transform="translate(503.75 95.50) scale(0.95 1)"  stroke="#1a1a1a" stroke-width="0.18">ROBE</text>
<text font-size="10.42" text-anchor="middle" font-weight="normal" fill="#1a1a1a" transform="translate(377.50 485.00) scale(0.95 1)"  stroke="#1a1a1a" stroke-width="0.18">FIRST FLOOR</text>
<text font-size="10.42" text-anchor="middle" font-weight="normal" fill="#1a1a1a" transform="translate(442.00 538.50) scale(0.95 1)"  stroke="#1a1a1a" stroke-width="0.18">CARPORT</text>
<text font-size="10.42" text-anchor="middle" font-weight="normal" fill="#1a1a1a" transform="translate(442.00 550.50) scale(0.95 1)"  stroke="#1a1a1a" stroke-width="0.18">12.6 x 2.7</text>
<text font-size="10.42" text-anchor="middle" font-weight="normal" fill="#1a1a1a" transform="translate(581.00 560.00) scale(0.95 1)"  stroke="#1a1a1a" stroke-width="0.18">SHED</text>
<text font-size="10.42" text-anchor="middle" font-weight="normal" fill="#1a1a1a" transform="translate(581.00 571.75) scale(0.95 1)"  stroke="#1a1a1a" stroke-width="0.18">6.0 x 3.3</text>
<text font-size="10.42" text-anchor="middle" font-weight="normal" fill="#1a1a1a" transform="translate(580.40 623.50) scale(0.95 1)"  stroke="#1a1a1a" stroke-width="0.18">(NOT IN POSITION)</text>
<text font-size="10.42" text-anchor="middle" font-weight="normal" fill="#1a1a1a" transform="translate(424.50 596.75) scale(0.95 1)"  stroke="#1a1a1a" stroke-width="0.18">COVERED</text>
<text font-size="10.42" text-anchor="middle" font-weight="normal" fill="#1a1a1a" transform="translate(424.50 608.50) scale(0.95 1)"  stroke="#1a1a1a" stroke-width="0.18">AREA</text>
<text font-size="10.42" text-anchor="middle" font-weight="normal" fill="#1a1a1a" transform="translate(424.50 620.10) scale(0.95 1)"  stroke="#1a1a1a" stroke-width="0.18">4.3 x 2.8</text>
<text font-size="10.40" text-anchor="middle" font-weight="normal" fill="#1a1a1a" transform="translate(446.50 637.20)"  stroke="#1a1a1a" stroke-width="0.18">H</text>
<text font-size="10.42" text-anchor="middle" font-weight="normal" fill="#1a1a1a" transform="translate(251.00 658.00) scale(0.95 1)"  stroke="#1a1a1a" stroke-width="0.18">RUMPUS</text>
<text font-size="10.42" text-anchor="middle" font-weight="normal" fill="#1a1a1a" transform="translate(251.00 669.75) scale(0.95 1)"  stroke="#1a1a1a" stroke-width="0.18">6.8 x 7.7</text>
<text font-size="7.26" text-anchor="middle" font-weight="normal" fill="#1a1a1a" transform="translate(342.25 664.25) scale(0.95 1)"  stroke="#1a1a1a" stroke-width="0.18">LIN</text>
<text font-size="10.42" text-anchor="start" font-weight="normal" fill="#1a1a1a" transform="translate(323.50 725.00) scale(0.95 1)"  stroke="#1a1a1a" stroke-width="0.18">BATH/</text>
<text font-size="10.42" text-anchor="start" font-weight="normal" fill="#1a1a1a" transform="translate(323.50 736.75) scale(0.95 1)"  stroke="#1a1a1a" stroke-width="0.18">L'DRY</text>
<text font-size="5.47" text-anchor="middle" font-weight="normal" fill="#1a1a1a" transform="translate(359.60 762.70) scale(0.95 1)"  stroke="#1a1a1a" stroke-width="0.18">WM</text>
<text font-size="10.42" text-anchor="middle" font-weight="normal" fill="#1a1a1a" transform="translate(469.50 714.25) scale(0.95 1)"  stroke="#1a1a1a" stroke-width="0.18">PAVED</text>
<text font-size="10.42" text-anchor="middle" font-weight="normal" fill="#1a1a1a" transform="translate(469.50 726.00) scale(0.95 1)"  stroke="#1a1a1a" stroke-width="0.18">AREA</text>
<text font-size="10.42" text-anchor="middle" font-weight="normal" fill="#1a1a1a" transform="translate(242.25 772.50) scale(0.95 1)"  stroke="#1a1a1a" stroke-width="0.18">5.8 x 2.1</text>
<text font-size="7.26" text-anchor="middle" font-weight="normal" fill="#1a1a1a" transform="translate(200.20 813.30) scale(0.95 1)"  stroke="#1a1a1a" stroke-width="0.18">CUP'D</text>
<text font-size="10.42" text-anchor="middle" font-weight="normal" fill="#1a1a1a" transform="translate(214.75 844.25) scale(0.95 1)"  stroke="#1a1a1a" stroke-width="0.18">ENTRY</text>
<text font-size="10.42" text-anchor="middle" font-weight="normal" fill="#1a1a1a" transform="translate(316.00 843.50) scale(0.95 1)"  stroke="#1a1a1a" stroke-width="0.18">BEDROOM</text>
<text font-size="10.42" text-anchor="middle" font-weight="normal" fill="#1a1a1a" transform="translate(316.00 855.50) scale(0.95 1)"  stroke="#1a1a1a" stroke-width="0.18">3.9 x 3.7</text>
<text font-size="10.42" text-anchor="middle" font-weight="normal" fill="#1a1a1a" transform="translate(445.75 827.50) scale(0.95 1)"  stroke="#1a1a1a" stroke-width="0.18">ALFRESCO</text>
<text font-size="10.42" text-anchor="middle" font-weight="normal" fill="#1a1a1a" transform="translate(445.75 839.25) scale(0.95 1)"  stroke="#1a1a1a" stroke-width="0.18">5.7 x 4.9</text>
<text font-size="10.42" text-anchor="middle" font-weight="normal" fill="#1a1a1a" transform="translate(413.25 891.80) scale(0.95 1)"  stroke="#1a1a1a" stroke-width="0.18">BBQ</text>
<text font-size="10.42" text-anchor="middle" font-weight="normal" fill="#1a1a1a" transform="translate(485.25 891.80) scale(0.95 1)"  stroke="#1a1a1a" stroke-width="0.18">BENCH</text>
<text font-size="10.42" text-anchor="middle" font-weight="normal" fill="#1a1a1a" transform="translate(377.75 915.00) scale(0.95 1)"  stroke="#1a1a1a" stroke-width="0.18">GROUND FLOOR</text>
<text font-size="10.42" text-anchor="middle" font-weight="normal" fill="#1a1a1a" transform="translate(153.20 742.00) rotate(-90) scale(0.95 1)"  stroke="#1a1a1a" stroke-width="0.18">PORCH</text>
<text font-size="24.00" text-anchor="start" font-weight="normal" fill="#111" transform="translate(29.50 978.70) scale(0.95 1)"  stroke="#111" stroke-width="0.18">148 Settlement Point Road, Port Macquarie</text>
<line x1="28.00" y1="987.50" x2="736.75" y2="987.50" stroke="#111" stroke-width="1.4"/>
<text font-size="17.37" text-anchor="start" font-weight="normal" fill="#111" transform="translate(596.75 959.00) scale(0.95 1)"  stroke="#111" stroke-width="0.18">INTERNAL : 319m²</text>
<text font-size="17.37" text-anchor="start" font-weight="normal" fill="#111" transform="translate(596.75 976.75) scale(0.95 1)"  stroke="#111" stroke-width="0.18">EXTERNAL : 174m²</text>
<text font-size="11.11" text-anchor="start" font-weight="normal" fill="#222" transform="translate(21.00 1012.60) scale(0.95 1)"  stroke="#222" stroke-width="0.18">DISCLAIMER</text>
<text font-size="10.80" text-anchor="start" font-weight="bold" fill="#111" transform="translate(21.00 1034.50) scale(0.95 1)" >PLANS SHOWN ARE FOR MARKETING PURPOSES ONLY. ALL DIMENSIONS ARE APPROXIMATE</text>
<text font-size="10.80" text-anchor="start" font-weight="bold" fill="#111" transform="translate(21.00 1047.00) scale(0.95 1)" >AND NOT TO SCALE. THEY ARE SUBJECT TO ERRORS AND INACCURACIES, AND NO LIABILITY</text>
<text font-size="10.80" text-anchor="start" font-weight="bold" fill="#111" transform="translate(21.00 1059.50) scale(0.95 1)" >WILL BE ACCEPTED. INTERESTED PARTIES SHOULD MAKE THEIR OWN INQUIRIES.</text>
<text font-size="40.80" text-anchor="start" font-weight="bold" fill="#15213f" transform="translate(553.00 1043.90)" stroke="#fff" stroke-width="0.7">Lifestyle.</text>
<rect x="0.5" y="0.5" width="763" height="1079" fill="none" stroke="#dedede" stroke-width="1"/>
</svg>
</body></html>
